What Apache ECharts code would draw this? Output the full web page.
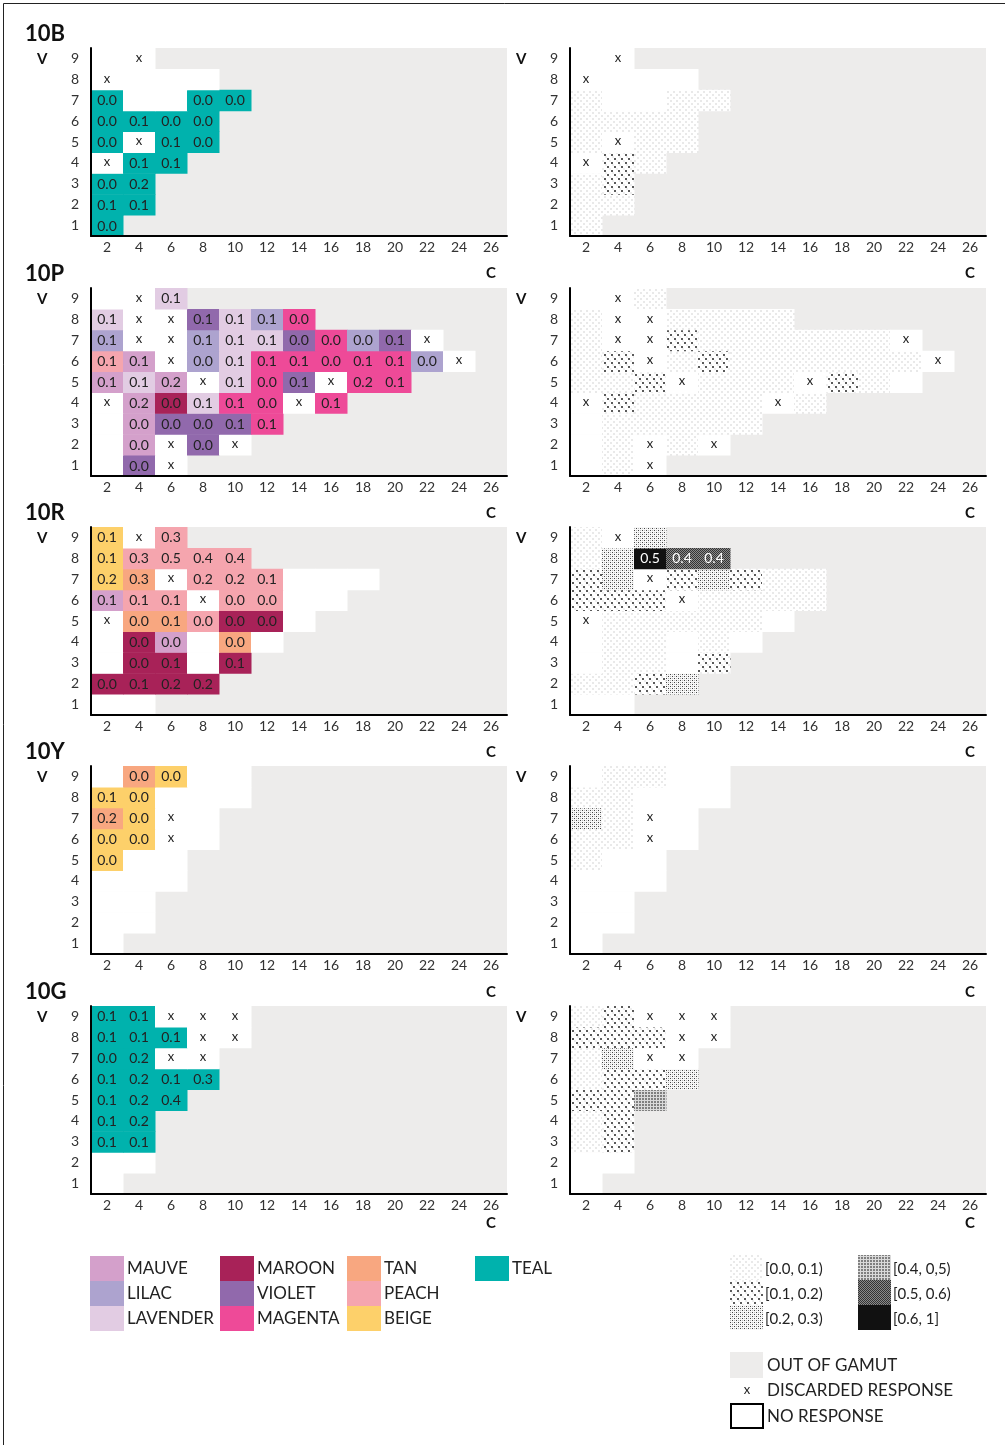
<!DOCTYPE html>
<html>
<head>
<meta charset="utf-8">
<script src="https://cdn.jsdelivr.net/npm/echarts@6/dist/echarts.min.js"></script>
<style>
html,body{margin:0;padding:0;background:#fff}
#chart{width:1005px;height:1445px}
</style>
</head>
<body>
<div id="chart"></div>
<script>
// axes
var chromaLabels = ['2','4','6','8','10','12','14','16','18','20','22','24','26'];
var valueLabels = ['1','2','3','4','5','6','7','8','9'];
var hues = ['10B','10P','10R','10Y','10G'];
var colorNames = ['MAUVE','LILAC','LAVENDER','MAROON','VIOLET','MAGENTA','TAN','PEACH','BEIGE','TEAL'];
var binLabels = ['[0.0, 0.1)','[0.1, 0.2)','[0.2, 0.3)','[0.4, 0,5)','[0.5, 0.6)','[0.6, 1]'];

// highest chroma inside the gamut, for V = 1..9
var gamut10B = [2,4,4,6,8,8,10,8,4];
var gamut10P = [6,10,12,16,20,24,22,14,6];
var gamut10Pright = [6,10,12,16,22,24,22,14,6];
var gamut10R = [4,8,10,12,14,16,18,10,6];
var gamut10Rright = [4,8,10,12,14,16,16,10,6];
var gamut10Y = [2,4,4,6,6,8,8,10,10];
var gamut10G = [2,4,4,4,6,8,8,10,10];

// left panels: [C, V, colour name or 'x', value]
var names10B = [
	[4,9,'x'],
	[2,8,'x'],
	[2,7,'TEAL',0.0],[8,7,'TEAL',0.0],[10,7,'TEAL',0.0],
	[2,6,'TEAL',0.0],[4,6,'TEAL',0.1],[6,6,'TEAL',0.0],[8,6,'TEAL',0.0],
	[2,5,'TEAL',0.0],[4,5,'x'],[6,5,'TEAL',0.1],[8,5,'TEAL',0.0],
	[2,4,'x'],[4,4,'TEAL',0.1],[6,4,'TEAL',0.1],
	[2,3,'TEAL',0.0],[4,3,'TEAL',0.2],
	[2,2,'TEAL',0.1],[4,2,'TEAL',0.1],
	[2,1,'TEAL',0.0]
];
var names10P = [
	[4,9,'x'],[6,9,'LAVENDER',0.1],
	[2,8,'LAVENDER',0.1],[4,8,'x'],[6,8,'x'],[8,8,'VIOLET',0.1],[10,8,'LAVENDER',0.1],[12,8,'LILAC',0.1],[14,8,'MAGENTA',0.0],
	[2,7,'LILAC',0.1],[4,7,'x'],[6,7,'x'],[8,7,'LILAC',0.1],[10,7,'LAVENDER',0.1],[12,7,'LAVENDER',0.1],[14,7,'VIOLET',0.0],[16,7,'MAGENTA',0.0],[18,7,'LILAC',0.0],[20,7,'VIOLET',0.1],[22,7,'x'],
	[2,6,'PEACH',0.1],[4,6,'MAUVE',0.1],[6,6,'x'],[8,6,'LILAC',0.0],[10,6,'LAVENDER',0.1],[12,6,'MAGENTA',0.1],[14,6,'MAGENTA',0.1],[16,6,'MAGENTA',0.0],[18,6,'MAGENTA',0.1],[20,6,'MAGENTA',0.1],[22,6,'LILAC',0.0],[24,6,'x'],
	[2,5,'MAUVE',0.1],[4,5,'LAVENDER',0.1],[6,5,'MAUVE',0.2],[8,5,'x'],[10,5,'LAVENDER',0.1],[12,5,'MAGENTA',0.0],[14,5,'VIOLET',0.1],[16,5,'x'],[18,5,'MAGENTA',0.2],[20,5,'MAGENTA',0.1],
	[2,4,'x'],[4,4,'MAUVE',0.2],[6,4,'MAROON',0.0],[8,4,'LAVENDER',0.1],[10,4,'MAGENTA',0.1],[12,4,'MAGENTA',0.0],[14,4,'x'],[16,4,'MAGENTA',0.1],
	[4,3,'MAUVE',0.0],[6,3,'VIOLET',0.0],[8,3,'VIOLET',0.0],[10,3,'VIOLET',0.1],[12,3,'MAGENTA',0.1],
	[4,2,'MAUVE',0.0],[6,2,'x'],[8,2,'VIOLET',0.0],[10,2,'x'],
	[4,1,'VIOLET',0.0],[6,1,'x']
];
var names10R = [
	[2,9,'BEIGE',0.1],[4,9,'x'],[6,9,'PEACH',0.3],
	[2,8,'BEIGE',0.1],[4,8,'PEACH',0.3],[6,8,'PEACH',0.5],[8,8,'PEACH',0.4],[10,8,'PEACH',0.4],
	[2,7,'BEIGE',0.2],[4,7,'TAN',0.3],[6,7,'x'],[8,7,'PEACH',0.2],[10,7,'PEACH',0.2],[12,7,'PEACH',0.1],
	[2,6,'MAUVE',0.1],[4,6,'PEACH',0.1],[6,6,'PEACH',0.1],[8,6,'x'],[10,6,'PEACH',0.0],[12,6,'PEACH',0.0],
	[2,5,'x'],[4,5,'TAN',0.0],[6,5,'TAN',0.1],[8,5,'PEACH',0.0],[10,5,'MAROON',0.0],[12,5,'MAROON',0.0],
	[4,4,'MAROON',0.0],[6,4,'MAUVE',0.0],[10,4,'TAN',0.0],
	[4,3,'MAROON',0.0],[6,3,'MAROON',0.1],[10,3,'MAROON',0.1],
	[2,2,'MAROON',0.0],[4,2,'MAROON',0.1],[6,2,'MAROON',0.2],[8,2,'MAROON',0.2]
];
var names10Y = [
	[4,9,'TAN',0.0],[6,9,'BEIGE',0.0],
	[2,8,'BEIGE',0.1],[4,8,'BEIGE',0.0],
	[2,7,'TAN',0.2],[4,7,'BEIGE',0.0],[6,7,'x'],
	[2,6,'BEIGE',0.0],[4,6,'BEIGE',0.0],[6,6,'x'],
	[2,5,'BEIGE',0.0]
];
var names10G = [
	[2,9,'TEAL',0.1],[4,9,'TEAL',0.1],[6,9,'x'],[8,9,'x'],[10,9,'x'],
	[2,8,'TEAL',0.1],[4,8,'TEAL',0.1],[6,8,'TEAL',0.1],[8,8,'x'],[10,8,'x'],
	[2,7,'TEAL',0.0],[4,7,'TEAL',0.2],[6,7,'x'],[8,7,'x'],
	[2,6,'TEAL',0.1],[4,6,'TEAL',0.2],[6,6,'TEAL',0.1],[8,6,'TEAL',0.3],
	[2,5,'TEAL',0.1],[4,5,'TEAL',0.2],[6,5,'TEAL',0.4],
	[2,4,'TEAL',0.1],[4,4,'TEAL',0.2],
	[2,3,'TEAL',0.1],[4,3,'TEAL',0.1]
];

// right panels: [C, V, bin index (see binLabels) or 'x']
var bins10B = [
	[4,9,'x'],
	[2,8,'x'],
	[2,7,0],[8,7,0],[10,7,0],
	[2,6,0],[4,6,0],[6,6,0],[8,6,0],
	[2,5,0],[4,5,'x'],[6,5,0],[8,5,0],
	[2,4,'x'],[4,4,1],[6,4,0],
	[2,3,0],[4,3,1],
	[2,2,0],[4,2,0],
	[2,1,0]
];
var bins10P = [
	[4,9,'x'],[6,9,0],
	[2,8,0],[4,8,'x'],[6,8,'x'],[8,8,0],[10,8,0],[12,8,0],[14,8,0],
	[2,7,0],[4,7,'x'],[6,7,'x'],[8,7,1],[10,7,0],[12,7,0],[14,7,0],[16,7,0],[18,7,0],[20,7,0],[22,7,'x'],
	[2,6,0],[4,6,1],[6,6,'x'],[8,6,0],[10,6,1],[12,6,0],[14,6,0],[16,6,0],[18,6,0],[20,6,0],[22,6,0],[24,6,'x'],
	[2,5,0],[4,5,0],[6,5,1],[8,5,'x'],[10,5,0],[12,5,0],[14,5,0],[16,5,'x'],[18,5,1],[20,5,0],
	[2,4,'x'],[4,4,1],[6,4,0],[8,4,0],[10,4,0],[12,4,0],[14,4,'x'],[16,4,0],
	[4,3,0],[6,3,0],[8,3,0],[10,3,0],[12,3,0],
	[4,2,0],[6,2,'x'],[8,2,0],[10,2,'x'],
	[4,1,0],[6,1,'x']
];
var bins10R = [
	[2,9,0],[4,9,'x'],[6,9,2],
	[2,8,0],[4,8,2],[6,8,5],[8,8,4],[10,8,4],
	[2,7,1],[4,7,2],[6,7,'x'],[8,7,1],[10,7,2],[12,7,1],[14,7,0],[16,7,0],
	[2,6,1],[4,6,1],[6,6,1],[8,6,'x'],[10,6,0],[12,6,0],[14,6,0],[16,6,0],
	[2,5,'x'],[4,5,0],[6,5,0],[8,5,0],[10,5,0],[12,5,0],
	[4,4,0],[6,4,0],[10,4,0],
	[4,3,0],[6,3,0],[10,3,1],
	[2,2,0],[4,2,0],[6,2,1],[8,2,2]
];
var marks10R = [[6,8,'0.5'],[8,8,'0.4'],[10,8,'0.4']];
var bins10Y = [
	[4,9,0],[6,9,0],
	[2,8,0],[4,8,0],
	[2,7,2],[4,7,0],[6,7,'x'],
	[2,6,0],[4,6,0],[6,6,'x'],
	[2,5,0]
];
var bins10G = [
	[2,9,0],[4,9,1],[6,9,'x'],[8,9,'x'],[10,9,'x'],
	[2,8,1],[4,8,1],[6,8,1],[8,8,'x'],[10,8,'x'],
	[2,7,0],[4,7,2],[6,7,'x'],[8,7,'x'],
	[2,6,0],[4,6,1],[6,6,1],[8,6,2],
	[2,5,1],[4,5,1],[6,5,3],
	[2,4,0],[4,4,1],
	[2,3,0],[4,3,1]
];

var colorHex = {
	MAUVE:'#d4a0cb', LILAC:'#ada3cf', LAVENDER:'#e2cce3',
	MAROON:'#a82258', VIOLET:'#9169ac', MAGENTA:'#ee4a98',
	TAN:'#f8a780', PEACH:'#f5a5ae', BEIGE:'#fdd06a', TEAL:'#00b2ad'
};
var GAMUT_GREY = '#edeceb';
var FONT = 'Lato, "Noto Sans", sans-serif';

//点状纹理
function makePattern(w, h, bg, dots)
{
	var cv = document.createElement('canvas');
	cv.width = w; cv.height = h;
	var ctx = cv.getContext('2d');
	ctx.fillStyle = bg;
	ctx.fillRect(0, 0, w, h);
	for(var i=0;i<dots.length;i++)
	{
		ctx.fillStyle = dots[i][3];
		ctx.fillRect(dots[i][0], dots[i][1], dots[i][2], dots[i][2]);
	}
	return {image: cv, repeat: 'repeat'};
}
var patterns = [
	makePattern(6, 6, '#fff', [[1,1,2,'#e9e9e9'],[4,4,2,'#e9e9e9']]),
	makePattern(7, 8, '#fff', [[0,0,2,'#eeeeee'],[3,4,2,'#eeeeee'],[2,2,2,'#5a5a5a'],[5,6,2,'#5a5a5a']]),
	makePattern(4, 4, '#f8f8f8', [[0,0,1,'#444'],[2,2,1,'#444'],[2,0,1,'#bbb'],[0,2,1,'#bbb']]),
	makePattern(3, 3, '#dadada', [[0,0,2,'#808080']]),
	makePattern(2, 2, '#8a8a8a', [[0,0,1,'#333'],[1,1,1,'#333']]),
	'#111'
];

function findCell(list, c, v)
{
	for(var i=0;i<list.length;i++)
	{
		if(list[i][0] == c && list[i][1] == v) return list[i];
	}
	return null;
}

function leftItems(gamut, names)
{
	var out = [];
	for(var v=1;v<=9;v++)
	{
		for(var c=2;c<=gamut[v-1];c+=2)
		{
			var cell = findCell(names, c, v);
			var it = {c:c, v:v, fill:'#fff', textColor:'#222'};
			if(cell && cell[2] == 'x') it.text = 'x';
			else if(cell) { it.fill = colorHex[cell[2]]; it.text = cell[3].toFixed(1); }
			out.push(it);
		}
	}
	return out;
}

function rightItems(gamut, bins, marks)
{
	var out = [];
	for(var v=1;v<=9;v++)
	{
		for(var c=2;c<=gamut[v-1];c+=2)
		{
			var cell = findCell(bins, c, v);
			var it = {c:c, v:v, fill:'#fff', textColor:'#222'};
			if(cell && cell[2] == 'x') it.text = 'x';
			else if(cell) it.fill = patterns[cell[2]];
			var mk = findCell(marks, c, v);
			if(mk) { it.text = mk[2]; it.textColor = '#fff'; }
			out.push(it);
		}
	}
	return out;
}

var panels = [
	[leftItems(gamut10B, names10B), rightItems(gamut10B, bins10B, [])],
	[leftItems(gamut10P, names10P), rightItems(gamut10Pright, bins10P, [])],
	[leftItems(gamut10R, names10R), rightItems(gamut10Rright, bins10R, marks10R)],
	[leftItems(gamut10Y, names10Y), rightItems(gamut10Y, bins10Y, [])],
	[leftItems(gamut10G, names10G), rightItems(gamut10G, bins10G, [])]
];

var gridTops = [48, 288, 527, 766, 1006];
var cLabelY = [274, 514, 753, 993, 1224];
var panelLeft = [91, 570];

function cellSeries(idx, items)
{
	return {
		type: 'custom',
		coordinateSystem: 'cartesian2d',
		xAxisIndex: idx,
		yAxisIndex: idx,
		silent: true,
		data: items.map(function(it){ return [chromaLabels.indexOf(String(it.c)), it.v - 1]; }),
		encode: {x: 0, y: 1},
		renderItem: function(params, api){
			var it = items[params.dataIndex];
			var p = api.coord([api.value(0), api.value(1)]);
			var s = api.size([1, 1]);
			var children = [{
				type: 'rect',
				shape: {x: p[0] - s[0]/2, y: p[1] - s[1]/2, width: s[0] + 0.5, height: s[1] + 0.5},
				style: {fill: it.fill}
			}];
			if(it.text)
			{
				children.push({
					type: 'text',
					style: {
						text: it.text, x: p[0], y: p[1] + (it.text == 'x' ? -1 : 0.5),
						align: 'center', verticalAlign: 'middle',
						fontFamily: FONT, fontSize: it.text == 'x' ? 13 : 14,
						fill: it.textColor
					}
				});
			}
			return {type: 'group', children: children};
		}
	};
}

var grids = [], xAxes = [], yAxes = [], series = [], graphics = [];
for(var r=0;r<hues.length;r++)
{
	for(var k=0;k<2;k++)
	{
		var idx = r*2 + k;
		grids.push({
			left: panelLeft[k], top: gridTops[r], width: 416, height: 188,
			show: true, backgroundColor: GAMUT_GREY, borderWidth: 0
		});
		xAxes.push({
			type: 'category', gridIndex: idx, data: chromaLabels, z: 10,
			axisLine: {lineStyle: {color: '#000', width: 2}},
			axisTick: {show: false},
			axisLabel: {color: '#333', fontSize: 14, fontFamily: FONT, margin: 4, interval: 0},
			splitLine: {show: false}
		});
		yAxes.push({
			type: 'category', gridIndex: idx, data: valueLabels, z: 10,
			axisLine: {lineStyle: {color: '#000', width: 2}},
			axisTick: {show: false},
			axisLabel: {color: '#333', fontSize: 14, fontFamily: FONT, margin: 12},
			splitLine: {show: false}
		});
		series.push(cellSeries(idx, panels[r][k]));

		graphics.push({type: 'text', left: panelLeft[k] - 54, top: gridTops[r] + 4,
			style: {text: 'V', font: 'bold 15px ' + FONT, fill: '#111'}});
		graphics.push({type: 'text', left: panelLeft[k] + 395, top: cLabelY[r] - 8,
			style: {text: 'C', font: 'bold 15px ' + FONT, fill: '#111'}});
	}
	graphics.push({type: 'text', left: 25, top: gridTops[r] - 25,
		style: {text: hues[r], font: 'bold 22px ' + FONT, fill: '#111'}});
}

//颜色名称图例
for(var i=0;i<colorNames.length;i++)
{
	var lx = [90, 220, 347, 475][Math.floor(i/3)];
	var ly = 1256 + (i % 3) * 25;
	graphics.push({type: 'rect', shape: {x: lx, y: ly, width: 34, height: 25}, style: {fill: colorHex[colorNames[i]]}});
	graphics.push({type: 'text', x: lx + 37, y: ly + 13,
		style: {text: colorNames[i], font: '17px ' + FONT, fill: '#222', verticalAlign: 'middle'}});
}
//纹理图例
for(var i=0;i<binLabels.length;i++)
{
	var px = i < 3 ? 730 : 858;
	var py = 1255 + (i % 3) * 25;
	graphics.push({type: 'rect', shape: {x: px, y: py, width: 33, height: 25}, style: {fill: patterns[i]}});
	graphics.push({type: 'text', x: px + 35, y: py + 14,
		style: {text: binLabels[i], font: '15px ' + FONT, fill: '#222', verticalAlign: 'middle'}});
}
graphics.push({type: 'rect', shape: {x: 730, y: 1352, width: 33, height: 26}, style: {fill: GAMUT_GREY}});
graphics.push({type: 'text', x: 767, y: 1366, style: {text: 'OUT OF GAMUT', font: '17px ' + FONT, fill: '#222', verticalAlign: 'middle'}});
graphics.push({type: 'text', x: 747, y: 1390, style: {text: 'x', font: '13px ' + FONT, fill: '#222', align: 'center', verticalAlign: 'middle'}});
graphics.push({type: 'text', x: 767, y: 1391, style: {text: 'DISCARDED RESPONSE', font: '17px ' + FONT, fill: '#222', verticalAlign: 'middle'}});
graphics.push({type: 'rect', shape: {x: 731, y: 1404, width: 32, height: 24}, style: {fill: '#fff', stroke: '#000', lineWidth: 2}});
graphics.push({type: 'text', x: 767, y: 1417, style: {text: 'NO RESPONSE', font: '17px ' + FONT, fill: '#222', verticalAlign: 'middle'}});
//外框
graphics.push({type: 'rect', shape: {x: 3.5, y: 3.5, width: 1020, height: 1460}, style: {fill: null, stroke: '#222', lineWidth: 1}});

var myChart = echarts.init(document.getElementById('chart'), null, {renderer: 'canvas'});
myChart.setOption({
	animation: false,
	backgroundColor: '#fff',
	grid: grids,
	xAxis: xAxes,
	yAxis: yAxes,
	series: series,
	graphic: {elements: graphics}
});
</script>
</body>
</html>
